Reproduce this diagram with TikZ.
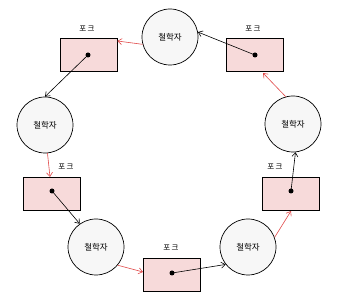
\documentclass[tikz,border=0pt]{standalone}
\usepackage{fontspec}
\newfontfamily\kor{Noto Sans CJK KR}
\usetikzlibrary{arrows.meta}
\definecolor{forkfill}{HTML}{F7DADA}
\definecolor{philfill}{HTML}{F7F7F7}
\definecolor{redarrow}{HTML}{E04848}
\tikzset{
  phil/.style={circle, draw=black, line width=0.7pt, fill=philfill, minimum size=56pt, inner sep=0pt, font=\kor\fontsize{8.5}{10}\selectfont},
  fork/.style={rectangle, draw=black, line width=0.7pt, fill=forkfill, minimum width=57pt, minimum height=33pt, inner sep=0pt},
  dotnode/.style={circle, fill=black, minimum size=5pt, inner sep=0pt},
  forklabel/.style={font=\kor\fontsize{7.5}{9}\selectfont, inner sep=0pt},
  redarr/.style={draw=redarrow, line width=0.6pt, -{Straight Barb[length=4pt,width=6pt]}},
  blackarr/.style={draw=black, line width=0.6pt, -{Straight Barb[length=4pt,width=6pt]}}
}
\begin{document}
\begin{tikzpicture}[x=1pt,y=-1pt]
\useasboundingbox (0,0) rectangle (338,299);
% philosophers
\node[phil] (pT) at (170,37) {철학자};
\node[phil] (pL) at (45,125) {철학자};
\node[phil] (pR) at (293,124) {철학자};
\node[phil] (pBL) at (96,247) {철학자};
\node[phil] (pBR) at (248,247) {철학자};
% forks
\node[fork] (fTL) at (88.5,55) {};
\node[fork] (fTR) at (255,55) {};
\node[fork] (fL) at (51.5,194) {};
\node[fork] (fR) at (291,194) {};
\node[fork] (fB) at (171.5,274.5) {};
% labels
\node[forklabel] (lTL) at (87,29) {포\,크};
\node[forklabel] (lTR) at (253,29) {포\,크};
\node[forklabel] (lL) at (66,167) {포\,크};
\node[forklabel] (lR) at (275,167) {포\,크};
\node[forklabel] (lB) at (171,247.5) {포\,크};
% dots
\node[dotnode] (dTL) at (88,55) {};
\node[dotnode] (dTR) at (255,55) {};
\node[dotnode] (dL) at (52,191) {};
\node[dotnode] (dR) at (291,191) {};
\node[dotnode] (dB) at (172,273) {};
% red arrows
\draw[redarr] (pT.195) -- (fTL.north east |- 0,41);
\draw[redarr] (pL.275) -- (50,177);
\draw[redarr] (pBL.-40) -- (143,272);
\draw[redarr] (pBR.20) -- (291,211);
\draw[redarr] (pR.105) -- (263,73);
% black arrows
\draw[blackarr] (dTL.center) -- (pL.north);
\draw[blackarr] (dL.center) -- (pBL.125);
\draw[blackarr] (dB.center) -- (pBR.218);
\draw[blackarr] (dR.center) -- (pR.275);
\draw[blackarr] (dTR.center) -- (pT.10);
\end{tikzpicture}
\end{document}
